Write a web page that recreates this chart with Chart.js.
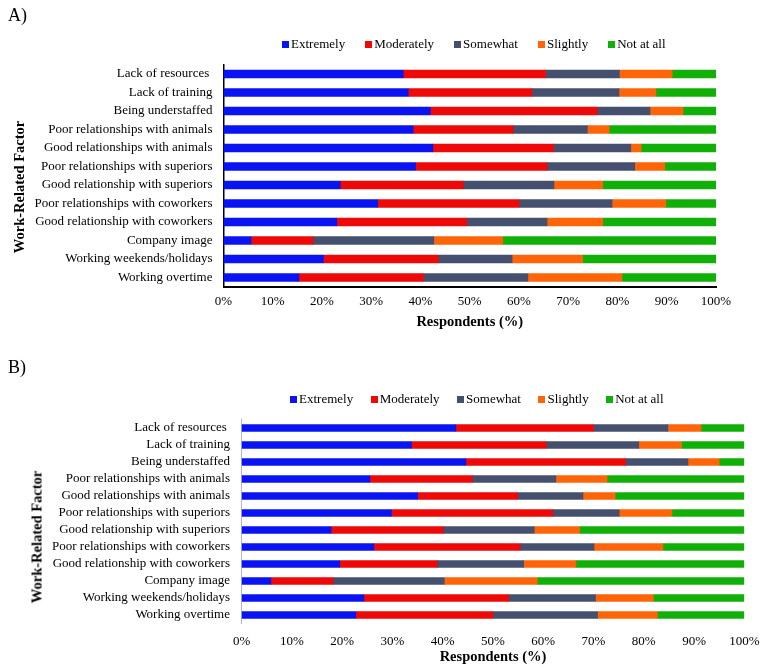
<!DOCTYPE html>
<html>
<head>
<meta charset="utf-8">
<script src="https://cdn.jsdelivr.net/npm/chart.js@4"></script>
<style>
  body { margin: 0; background: #fff; font-family: "Liberation Serif", "Times New Roman", serif; }
  #wrap { position: relative; width: 763px; height: 668px; overflow: hidden; }
  .panel { position: absolute; left: 0; width: 763px; height: 334px; }
  .tag { position: absolute; font-size: 18px; line-height: 1; }
  .ytitle { position: absolute; font-weight: bold; font-size: 14.5px; white-space: nowrap;
            transform: translate(-50%, -50%) rotate(-90deg); }
  .legend { position: absolute; display: flex; align-items: center; font-size: 13px; white-space: nowrap; }
  .legend span.box { display: inline-block; width: 7px; height: 7px; margin-right: 2px; }
</style>
</head>
<body>
<div id="wrap">
  <div class="panel" style="top:0"><canvas id="chartA" width="763" height="334"></canvas></div>
  <div class="panel" style="top:334px"><canvas id="chartB" width="763" height="334"></canvas></div>
  <div class="tag" style="left:8px;top:6px">A)</div>
  <div class="tag" style="left:8px;top:358px">B)</div>
  <div class="ytitle" style="left:19px;top:187px">Work-Related Factor</div>
  <div class="ytitle" style="left:37px;top:537px">Work-Related Factor</div>
  <div class="legend" id="legendA" style="left:282px;top:36px;gap:20px"></div>
  <div class="legend" id="legendB" style="left:290px;top:391px;gap:17.5px"></div>
</div>
<script>
const categories = [
  'Lack of resources ', 'Lack of training', 'Being understaffed',
  'Poor relationships with animals', 'Good relationships with animals',
  'Poor relationships with superiors', 'Good relationship with superiors',
  'Poor relationships with coworkers', 'Good relationship with coworkers',
  'Company image', 'Working weekends/holidays', 'Working overtime'
];
const seriesNames = ['Extremely', 'Moderately', 'Somewhat', 'Slightly', 'Not at all'];
const xTicks = [0, 10, 20, 30, 40, 50, 60, 70, 80, 90, 100];

// panel A
const aExtremely = [36.5, 37.5, 42.0, 38.5, 42.5, 39.0, 23.7, 31.3, 23.0, 5.6, 20.3, 15.3];
const aModerately = [28.9, 25.1, 33.9, 20.3, 24.5, 26.7, 25.0, 28.7, 26.4, 12.6, 23.3, 25.3];
const aSomewhat = [15.0, 17.7, 10.7, 15.1, 15.7, 17.8, 18.4, 18.9, 16.3, 24.5, 15.0, 21.2];
const aSlightly = [10.7, 7.5, 6.7, 4.4, 2.1, 6.1, 9.9, 10.9, 11.3, 14.0, 14.3, 19.1];
const aNotAtAll = [8.9, 12.2, 6.7, 21.7, 15.2, 10.4, 23.0, 10.2, 23.0, 43.3, 27.1, 19.1];

// panel B
const bExtremely = [42.6, 33.8, 44.6, 25.5, 35.0, 29.8, 17.8, 26.3, 19.5, 5.8, 24.3, 22.7];
const bModerately = [27.4, 26.8, 31.8, 20.4, 19.9, 32.1, 22.3, 29.1, 19.4, 12.4, 28.8, 27.3];
const bSomewhat = [14.8, 18.4, 12.4, 16.6, 13.0, 13.2, 18.1, 14.7, 17.2, 22.1, 17.3, 20.8];
const bSlightly = [6.6, 8.5, 6.2, 10.2, 6.4, 10.5, 9.0, 13.7, 10.4, 18.5, 11.5, 11.9];
const bNotAtAll = [8.6, 12.5, 5.0, 27.3, 25.7, 14.4, 32.8, 16.2, 33.5, 41.2, 18.1, 17.3];

const colors = ['#0a14f2', '#ee0808', '#44506e', '#ff6508', '#10b008'];

Chart.defaults.font.family = '"Liberation Serif", "Times New Roman", serif';
Chart.defaults.color = '#000';

function buildLegend(id) {
  const el = document.getElementById(id);
  seriesNames.forEach((name, i) => {
    const item = document.createElement('div');
    item.innerHTML = `<span class="box" style="background:${colors[i]}"></span>${name}`;
    item.style.display = 'flex';
    item.style.alignItems = 'center';
    el.appendChild(item);
  });
}

function makeChart(canvasId, series, o) {
  return new Chart(document.getElementById(canvasId), {
    type: 'bar',
    data: {
      labels: categories,
      datasets: series.map((values, i) => ({
        label: seriesNames[i],
        data: values,
        backgroundColor: colors[i],
        borderWidth: 0,
        barThickness: o.barThickness
      }))
    },
    options: {
      indexAxis: 'y',
      responsive: false,
      animation: false,
      layout: { padding: { top: o.top, right: o.right, left: 0, bottom: 0 } },
      plugins: { legend: { display: false }, tooltip: { enabled: false } },
      scales: {
        x: {
          stacked: true,
          min: 0,
          max: 100,
          afterBuildTicks: s => { s.ticks = xTicks.map(v => ({ value: v })); },
          afterFit: s => {
            s.height = o.xHeight;
            // keep the plot edges where the reference has them
            s.paddingLeft = 0;
            s.paddingRight = 0;
          },
          ticks: { font: { size: 13 }, padding: o.xPad, callback: v => v + '%' },
          grid: { display: false, drawTicks: false },
          border: o.xBorder,
          title: {
            display: true,
            text: 'Respondents (%)',
            font: { size: 14.5, weight: 'bold' },
            padding: { top: 0, bottom: o.titlePad }
          }
        },
        y: {
          stacked: true,
          afterFit: s => { s.width = o.yWidth; },
          ticks: { font: { size: 13 }, padding: o.yPad, autoSkip: false },
          grid: { display: false, drawTicks: false },
          border: o.yBorder
        }
      }
    }
  });
}

buildLegend('legendA');
buildLegend('legendB');

makeChart('chartA', [aExtremely, aModerately, aSomewhat, aSlightly, aNotAtAll], {
  top: 64.75, right: 47, yWidth: 223.5, xHeight: 47.25, barThickness: 8,
  xPad: 7, yPad: 11, titlePad: 3.3,
  xBorder: { display: true, color: '#000', width: 2 },
  yBorder: { display: true, color: '#000', width: 1.5 }
});

makeChart('chartB', [bExtremely, bModerately, bSomewhat, bSlightly, bNotAtAll], {
  top: 85.5, right: 18.7, yWidth: 241.7, xHeight: 44.5, barThickness: 7,
  xPad: 10, yPad: 11.7, titlePad: 2.3,
  xBorder: { display: false },
  yBorder: { display: true, color: '#a9b9d6', width: 1 }
});
</script>
</body>
</html>
